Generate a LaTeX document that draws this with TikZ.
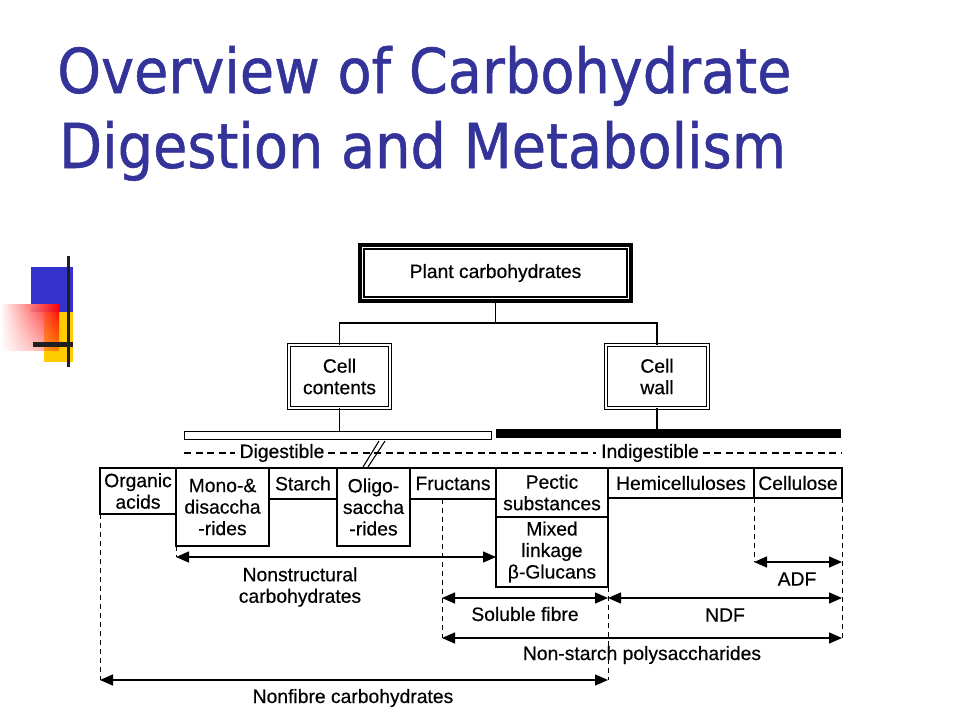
\documentclass[tikz,border=0pt]{standalone}
\usepackage{fontspec}
\setmainfont{Liberation Sans}[FakeBold=0.4]
\newfontfamily\titlefont{DejaVu Sans Condensed}[FakeBold=0.8]
\usetikzlibrary{arrows.meta,fadings}
\definecolor{titleblue}{RGB}{51,51,153}
\definecolor{decoblue}{RGB}{51,51,204}
\definecolor{decoyellow}{RGB}{255,204,0}
\tikzfading[name=fadedown, top color=transparent!0, bottom color=transparent!60]
\begin{document}
\begin{tikzpicture}[x=1pt,y=-1pt,
  lbl/.style={font=\fontsize{19.3}{21.5}\selectfont, align=center, inner sep=0pt, outer sep=0pt},
  cbox/.style={lbl, draw, line width=1.3pt, anchor=north west},
  dbox/.style={lbl, draw, line width=0.9pt, double=white, double distance=2pt, anchor=north west},
  conn/.style={line width=1.3pt},
  vdash/.style={line width=1pt, dash pattern=on 5pt off 4pt},
  hdash/.style={line width=1.1pt, dash pattern=on 7pt off 4.5pt},
  arr/.style={line width=1.4pt, {Triangle[length=13pt,width=11pt]}-{Triangle[length=13pt,width=11pt]}},
  title/.style={anchor=base west, inner sep=0pt, text=titleblue, font=\titlefont\fontsize{62}{62}\selectfont}
]
\useasboundingbox (0,0) rectangle (960,720);
\fill[white] (0,0) rectangle (960,720);

% decoration
\fill[decoblue] (31,267) rectangle (73,312);
\fill[decoyellow] (44,312) rectangle (73,362);
\shade[left color=white, right color=red, path fading=fadedown] (0,304) rectangle (59,350);
\fill[black!88] (67,256) rectangle (70,367);
\fill[black!88] (33,342) rectangle (73,347);

% title
\node[title] (t1) at (57,93) {Overview of Carbohydrate};
\node[title] (t2) at (59,168) {Digestion and Metabolism};

% top boxes
\node[lbl, draw, line width=3.5pt, minimum width=271, minimum height=56, anchor=north west] (plant) at (360,245) {Plant carbohydrates};
\draw[line width=1.1pt] ([xshift=4pt,yshift=-4pt]plant.north west) rectangle ([xshift=-4pt,yshift=4pt]plant.south east);
\node[dbox, minimum width=101, minimum height=63] (cc) at (289,345) {Cell\\contents};
\node[dbox, minimum width=102, minimum height=63] (cw) at (606,345) {Cell\\wall};
\draw[conn] (plant.south) -- (plant.south |- 0,323);
\draw[conn] (cc.north) -- (cc.north |- 0,323) -| (cw.north);

% bars
\node[draw, line width=1.2pt, minimum width=307, minimum height=8, inner sep=0pt, anchor=north west] (dbar) at (184,431) {};
\node[fill=black, minimum width=345, minimum height=9, inner sep=0pt, anchor=north west] (ibar) at (496,429) {};
\draw[conn] (cc.south) -- (cc.south |- dbar.north);
\draw[conn] (cw.south) -- (cw.south |- ibar.north);

% digestible / indigestible
\node[lbl] (dig) at (282,453) {Digestible};
\node[lbl] (indig) at (650,453) {Indigestible};
\draw[hdash] (dbar.west |- dig) -- ([xshift=-5pt]dig.west);
\draw[hdash] ([xshift=4pt]dig.east) -- ([xshift=-5pt]indig.west);
\draw[hdash] ([xshift=4pt]indig.east) -- (ibar.east |- indig);

% row of boxes
\node[cbox, minimum width=76, minimum height=46] (org) at (100,468) {Organic\\acids};
\node[cbox, minimum width=93, minimum height=78] (mono) at (176,468) {Mono-\&\\disaccha\\-rides};
\node[cbox, minimum width=68, minimum height=31] (starch) at (269,468) {Starch};
\node[cbox, minimum width=73, minimum height=78] (oligo) at (337,468) {Oligo-\\saccha\\-rides};
\node[cbox, minimum width=86, minimum height=31] (fruc) at (410,468) {Fructans};
\node[cbox, minimum width=112, minimum height=49] (pect) at (496,468) {Pectic\\substances};
\node[cbox, minimum width=112, minimum height=70] (mixed) at (496,517) {Mixed\\linkage\\β-Glucans};
\node[cbox, minimum width=146, minimum height=30] (hemi) at (608,468) {Hemicelluloses};
\node[cbox, minimum width=88, minimum height=30] (cell) at (754,468) {Cellulose};

% break marks
\draw[line width=1.1pt] (363,467) -- (379,441);
\draw[line width=1.1pt] (368,467) -- (385,441);

% arrow end coordinates
\coordinate (nsL) at (176,557);
\coordinate (adfL) at (754,562);
\coordinate (sfL) at (442,598);
\coordinate (nspL) at (442,638);
\coordinate (nfL) at (100,680);
\coordinate (nfR) at (608,680);

% dashed verticals
\draw[vdash] (org.south west) -- (nfL);
\draw[vdash] (mono.south west) -- (nsL);
\draw[vdash] (fruc.south -| sfL) -- (nspL);
\draw[vdash] (mixed.south east) -- (nfR);
\draw[vdash] (cell.south west) -- (adfL);
\draw[vdash] (cell.south east) -- (cell.east |- nspL);

% arrows
\draw[arr] (nsL) -- (mixed.west |- nsL);
\draw[arr] (adfL) -- (cell.east |- adfL);
\draw[arr] (sfL) -- (mixed.east |- sfL);
\draw[arr] (mixed.east |- sfL) -- (cell.east |- sfL);
\draw[arr] (nspL) -- (cell.east |- nspL);
\draw[arr] (nfL) -- (nfR);

% arrow labels
\node[lbl] (nsT) at (300,587) {Nonstructural\\carbohydrates};
\node[lbl] (adfT) at (797,579) {ADF};
\node[lbl] (sfT) at (525,614) {Soluble fibre};
\node[lbl] (ndfT) at (725,615) {NDF};
\node[lbl] (nspT) at (642,655) {Non-starch polysaccharides};
\node[lbl] (nfT) at (353,698) {Nonfibre carbohydrates};
\end{tikzpicture}
\end{document}
